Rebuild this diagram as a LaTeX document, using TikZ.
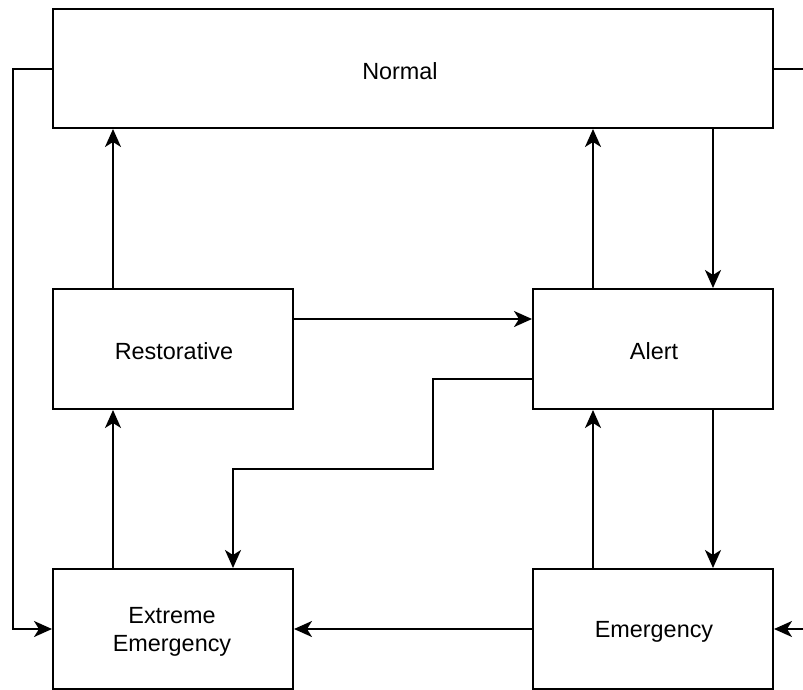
\documentclass[tikz,border=0pt]{standalone}
\usepackage{fontspec}
\setmainfont{Liberation Sans}
\usetikzlibrary{arrows.meta}
\begin{document}
\begin{tikzpicture}[x=1pt,y=-1pt,
  state/.style={draw,line width=2pt,inner sep=0pt,align=center,
    minimum width=240pt,minimum height=120pt,
    font=\fontsize{23.4}{28}\selectfont},
  label/.style={font=\fontsize{23.4}{28}\selectfont,align=center},
  link/.style={line width=2pt,-{Stealth[length=18pt,width=16pt,inset=5pt]}},
  plain/.style={line width=2pt}]
\useasboundingbox (0,0) rectangle (803,690);
% states
\node[draw,line width=2pt,minimum width=720pt,minimum height=119pt,inner sep=0pt] (normal) at (413,68.5) {};
\node[label] (normaltext) at (400,71) {Normal};
\node[state] (rest) at (173,349) {};
\node[label] at (174,351.5) {Restorative};
\node[state] (alert) at (653,349) {};
\node[label] at (654,351.5) {Alert};
\node[state] (extreme) at (173,629) {};
\node[label] at (172,631.5) {Extreme\\Emergency};
\node[state] (emerg) at (653,629) {};
\node[label] at (654,631.5) {Emergency};
% outer routing points
\coordinate (rightA) at (803,69);
\coordinate (rightB) at (803,629);
% transitions
\draw[link] (rest.north -| 113,0) -- (normal.south -| 113,0);
\draw[link] (alert.north -| 593,0) -- (normal.south -| 593,0);
\draw[link] (normal.south -| 713,0) -- (alert.north -| 713,0);
\draw[link] (rest.east |- 0,319) -- (alert.west |- 0,319);
\draw[link] (alert.west |- 0,379) -| (433,469) -| (extreme.north -| 233,0);
\draw[link] (alert.south -| 713,0) -- (emerg.north -| 713,0);
\draw[link] (emerg.north -| 593,0) -- (alert.south -| 593,0);
\draw[link] (extreme.north -| 113,0) -- (rest.south -| 113,0);
\draw[link] (emerg.west) -- (extreme.east);
\draw[link] (normal.west |- 0,69) -| (13,629) -- (extreme.west);
\draw[plain] (normal.east |- rightA) -- (rightA);
\draw[link] (rightB) -- (emerg.east);
\end{tikzpicture}
\end{document}
